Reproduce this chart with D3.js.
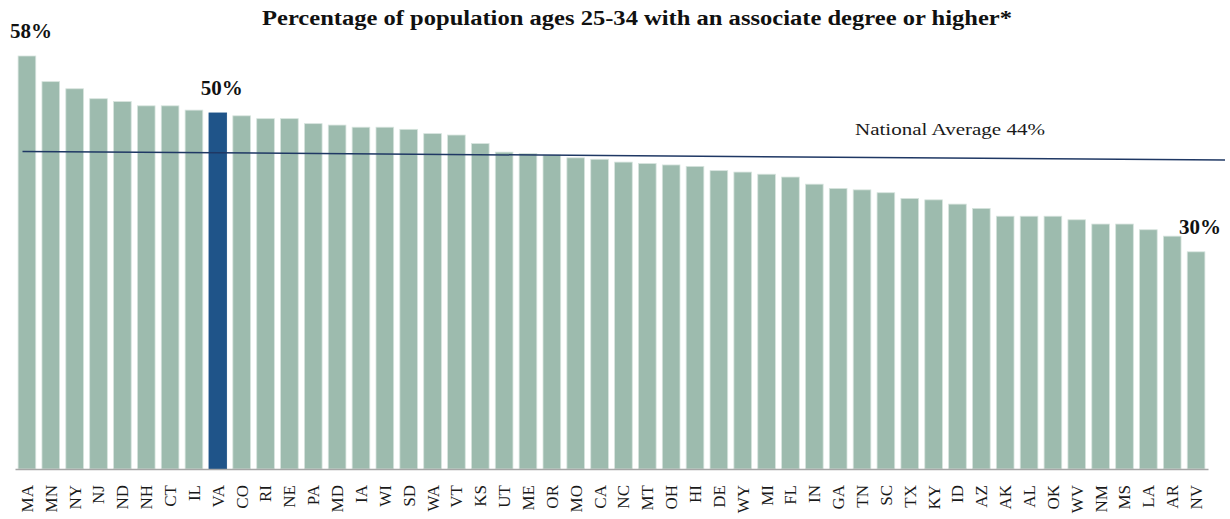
<!DOCTYPE html>
<html>
<head>
<meta charset="utf-8">
<script src="https://cdn.jsdelivr.net/npm/d3@7"></script>
<style>
  html, body { margin: 0; padding: 0; background: #fff; }
  svg { display: block; font-family: "Liberation Serif", "DejaVu Serif", serif; }
</style>
</head>
<body>
<div id="chart"></div>
<script>
// States ordered by share of 25-34 year olds with an associate degree or higher
const states = ["MA","MN","NY","NJ","ND","NH","CT","IL","VA","CO","RI","NE","PA","MD","IA","WI","SD","WA","VT","KS",
  "UT","ME","OR","MO","CA","NC","MT","OH","HI","DE","WY","MI","FL","IN","GA","TN","SC","TX","KY","ID",
  "AZ","AK","AL","OK","WV","NM","MS","LA","AR","NV"];
const percents = [58.0,54.4,53.4,52.0,51.6,51.0,51.0,50.4,50.0,49.6,49.2,49.2,48.5,48.3,48.0,48.0,47.7,47.1,46.9,45.7,
  44.5,44.3,44.1,43.7,43.5,43.1,42.9,42.7,42.5,41.9,41.7,41.4,41.0,40.0,39.4,39.2,38.8,38.0,37.8,37.2,
  36.6,35.5,35.5,35.5,35.0,34.4,34.4,33.6,32.7,30.5];
const highlightState = "VA";
const labelledStates = ["MA", "VA", "NV"];
const valueLabels = ["58%", "50%", "30%"];
// national average line is drawn slightly tilted in the original
const nationalAvg = [44.6, 43.4];
const nationalAvgLabel = "National Average 44%";
const title = "Percentage of population ages 25-34 with an associate degree or higher*";

const width = 1230, height = 519;
const baseline = 469;

const data = states.map((s, i) => ({ state: s, value: percents[i] }));

const svg = d3.select("#chart")
  .append("svg")
  .attr("width", width)
  .attr("height", height);

const x = d3.scaleBand()
  .domain(states)
  .range([15, 1208])
  .paddingInner(0.26)
  .paddingOuter(0.13);

const y = d3.scaleLinear()
  .domain([0, 58])
  .range([baseline, 56]);

// title (Palatino-like width)
svg.append("text")
  .attr("x", 262)
  .attr("y", 25)
  .attr("font-weight", "bold")
  .attr("font-size", 20)
  .attr("textLength", 750)
  .attr("lengthAdjust", "spacingAndGlyphs")
  .attr("fill", "#111")
  .text(title);

// bars
svg.append("g")
  .selectAll("rect")
  .data(data)
  .join("rect")
  .attr("x", (d) => x(d.state))
  .attr("y", (d) => y(d.value))
  .attr("width", x.bandwidth())
  .attr("height", (d) => y(0) - y(d.value))
  .attr("fill", (d) => d.state === highlightState ? "#1f5489" : "#9dbbae")
  .attr("stroke", (d) => d.state === highlightState ? "#1f5489" : "#d7e4de")
  .attr("stroke-width", 0.8);

// x axis
const xAxis = svg.append("g")
  .attr("transform", `translate(0,${baseline})`)
  .call(d3.axisBottom(x).tickSize(0).tickPadding(0));

xAxis.select(".domain")
  .attr("stroke", "#a6a6a6")
  .attr("stroke-width", 1.5);

xAxis.selectAll(".tick text")
  .attr("transform", "rotate(-90)")
  .attr("text-anchor", "end")
  .attr("x", -16)
  .attr("y", 0)
  .attr("dy", "0.35em")
  .attr("font-family", "Liberation Serif, serif")
  .attr("font-size", 17)
  .attr("fill", "#1a1a1a");

// national average
const avgX0 = x(states[0]) + x.bandwidth() / 4;
const avgX1 = width - 5;
svg.append("line")
  .attr("x1", avgX0)
  .attr("x2", avgX1)
  .attr("y1", y(nationalAvg[0]))
  .attr("y2", y(nationalAvg[1]))
  .attr("stroke", "#1f3864")
  .attr("stroke-width", 1.5);

svg.append("text")
  .attr("x", 855)
  .attr("y", 135)
  .attr("font-size", 17)
  .attr("textLength", 190)
  .attr("lengthAdjust", "spacingAndGlyphs")
  .attr("fill", "#1a1a1a")
  .text(nationalAvgLabel);

// value labels
svg.append("g")
  .selectAll("text")
  .data(labelledStates)
  .join("text")
  .attr("x", (s) => x(s) + x.bandwidth() / 2 + 4)
  .attr("y", (s) => y(percents[states.indexOf(s)]) - 18)
  .attr("text-anchor", "middle")
  .attr("font-weight", "bold")
  .attr("font-size", 20)
  .attr("textLength", 42)
  .attr("lengthAdjust", "spacingAndGlyphs")
  .attr("fill", "#111")
  .text((s, i) => valueLabels[i]);
</script>
</body>
</html>
